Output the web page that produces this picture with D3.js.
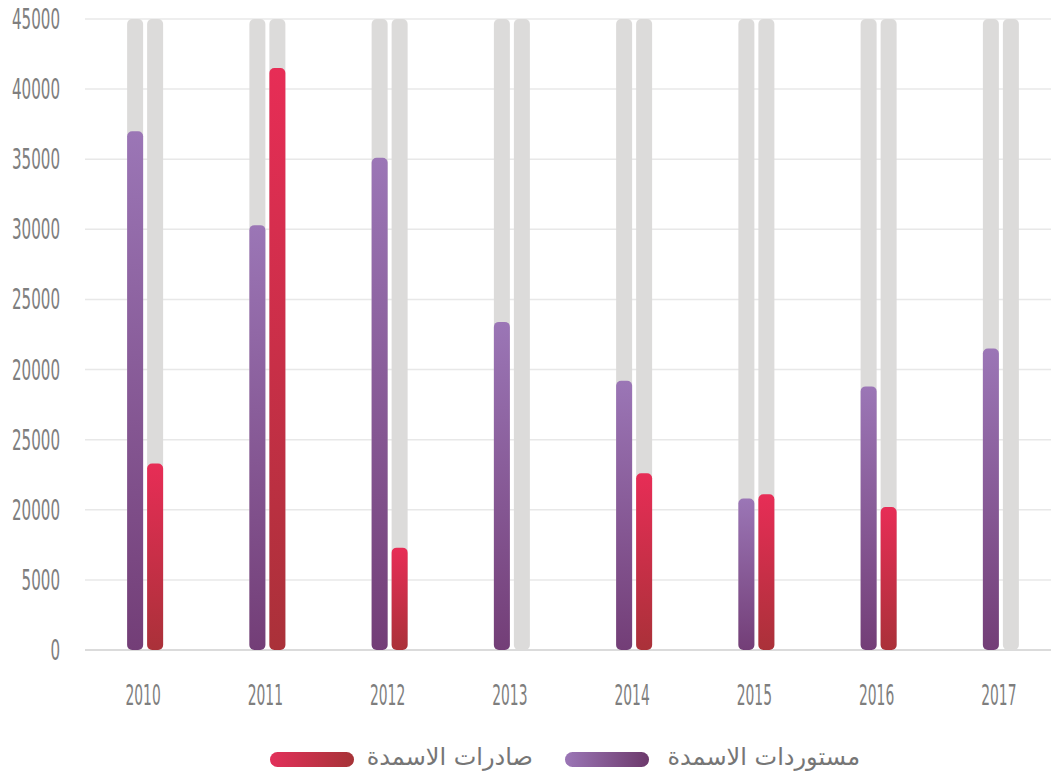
<!DOCTYPE html>
<html>
<head>
<meta charset="utf-8">
<script src="https://cdn.jsdelivr.net/npm/d3@7"></script>
<style>
  body { margin: 0; background: #fff; }
  text { font-family: "DejaVu Sans ExtraLight", "DejaVu Sans Condensed", sans-serif; fill: #7e7e7e; }
</style>
</head>
<body>
<svg id="chart" width="1051" height="774"></svg>
<script>
// data
const years = ['2010', '2011', '2012', '2013', '2014', '2015', '2016', '2017'];
const imports = [37000, 30300, 35100, 23400, 19200, 10800, 18800, 21500];   // مستوردات الاسمدة
const exports = [13300, 41500, 7300, 0, 12600, 11100, 10200, 0];           // صادرات الاسمدة
const tickValues = [0, 5000, 10000, 15000, 20000, 25000, 30000, 35000, 40000, 45000];
// the source prints these labels (including the repeated ones) as is
const tickLabels = ['0', '5000', '20000', '25000', '20000', '25000', '30000', '35000', '40000', '45000'];
const seriesNames = ['صادرات الاسمدة', 'مستوردات الاسمدة'];

const svg = d3.select('#chart');
const defs = svg.append('defs');

function vGrad(id, top, bottom){
    let g = defs.append('linearGradient').attr('id', id).attr('x1', 0).attr('y1', 0).attr('x2', 0).attr('y2', 1);
    g.append('stop').attr('offset', '0%').attr('stop-color', top);
    g.append('stop').attr('offset', '100%').attr('stop-color', bottom);
}
function hGrad(id, left, right){
    let g = defs.append('linearGradient').attr('id', id).attr('x1', 0).attr('y1', 0).attr('x2', 1).attr('y2', 0);
    g.append('stop').attr('offset', '0%').attr('stop-color', left);
    g.append('stop').attr('offset', '100%').attr('stop-color', right);
}
vGrad('purpleV', '#9b76b6', '#733e77');
vGrad('redV', '#e72d56', '#aa3139');
hGrad('purpleH', '#9b76b6', '#6c396b');
hGrad('redH', '#e2305a', '#a63337');

const x = d3.scaleBand().domain(years).range([82, 1060]);
const y = d3.scaleLinear().domain([0, 45000]).range([650, 19]);

// grid
svg.append('g').selectAll('line').data(tickValues.slice(1)).enter().append('line')
    .attr('x1', 85).attr('x2', 1051)
    .attr('y1', d => y(d)).attr('y2', d => y(d))
    .style('stroke', '#e8e8e8').style('stroke-width', 1.5);
svg.append('line').attr('x1', 85).attr('x2', 1051).attr('y1', y(0)).attr('y2', y(0))
    .style('stroke', '#cfcfcf').style('stroke-width', 1.5);

// y labels
svg.append('g').selectAll('text').data(tickValues).enter().append('text')
    .attr('transform', d => 'translate(60,' + (y(d) + 10) + ') scale(0.6,1)')
    .attr('text-anchor', 'end')
    .style('font-size', '28px')
    .text((d, i) => tickLabels[i]);

// x labels
svg.append('g').selectAll('text').data(years).enter().append('text')
    .attr('transform', d => 'translate(' + (x(d) + x.bandwidth() / 2) + ',705) scale(0.55,1)')
    .attr('text-anchor', 'middle')
    .style('font-size', '28px')
    .text(d => d);

const barW = 16, gap = 4;
const groups = svg.append('g').selectAll('g').data(years).enter().append('g')
    .attr('transform', d => 'translate(' + (x(d) + x.bandwidth() / 2 + 2) + ',0)');

const series = [
    {vals: imports, fill: 'url(#purpleV)', dx: -barW - gap / 2},
    {vals: exports, fill: 'url(#redV)', dx: gap / 2}
];

series.forEach(s => {
    // gray track behind
    groups.append('rect')
        .attr('x', s.dx).attr('width', barW)
        .attr('y', y(45000)).attr('height', y(0) - y(45000))
        .attr('rx', 5)
        .style('fill', '#dcdbda');
    groups.filter((d, i) => s.vals[i] > 0).append('rect')
        .attr('x', s.dx).attr('width', barW)
        .attr('y', d => y(s.vals[years.indexOf(d)]))
        .attr('height', d => y(0) - y(s.vals[years.indexOf(d)]))
        .attr('rx', 5)
        .style('fill', s.fill);
});

// legend
const legend = svg.append('g');
const legItems = [
    {name: seriesNames[0], fill: 'url(#redH)', sx: 270, tx: 533},
    {name: seriesNames[1], fill: 'url(#purpleH)', sx: 565, tx: 860}
];
legItems.forEach(l => {
    legend.append('rect').attr('x', l.sx).attr('y', 752).attr('width', 84).attr('height', 15).attr('rx', 7.5)
        .style('fill', l.fill);
    legend.append('text').attr('x', l.tx).attr('y', 765).attr('text-anchor', 'end')
        .style('font-family', '"DejaVu Sans", sans-serif')
        .style('font-size', '24px').style('fill', '#767676')
        .text(l.name);
});
</script>
</body>
</html>
